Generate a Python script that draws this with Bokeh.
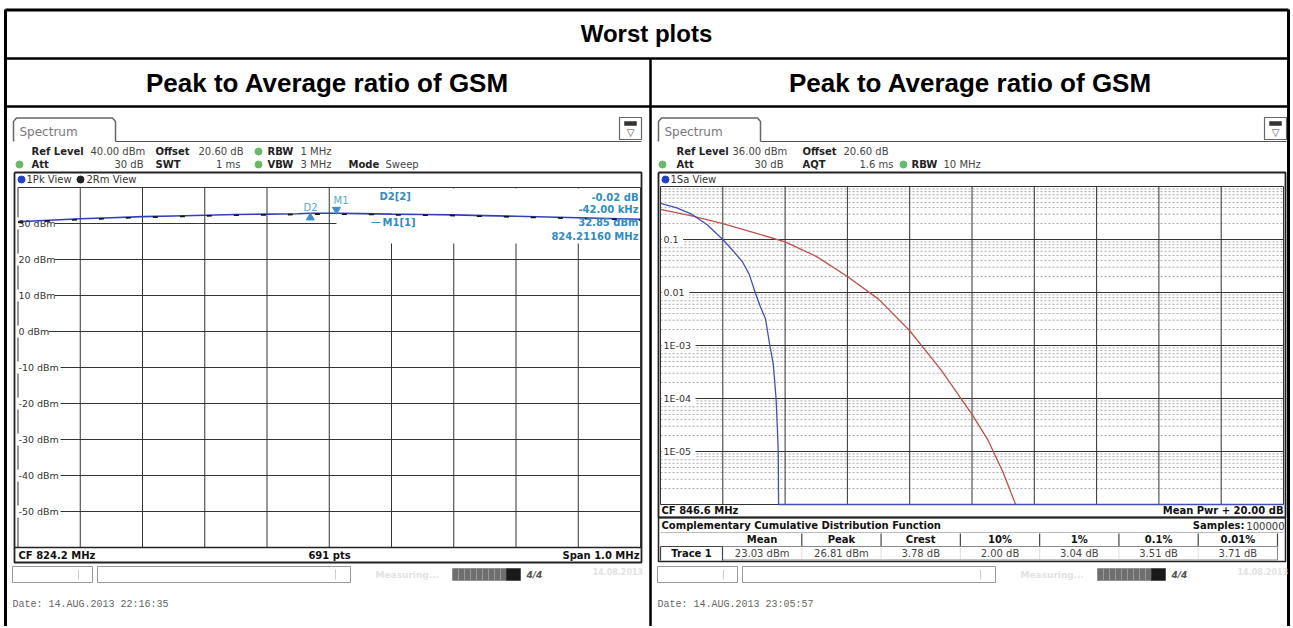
import numpy as np
from bokeh.plotting import figure
from bokeh.models import Range1d
from bokeh.core.properties import value
from bokeh.embed import file_html
from bokeh.resources import INLINE

# ---------------- data ----------------
table_title = "Worst plots"
panel_titles = ["Peak to Average ratio of GSM", "Peak to Average ratio of GSM"]

# left screenshot: spectrum (CF 824.2 MHz, span 1 MHz, ref 40 dBm, 10 dB/div)
spec_cf_mhz = 824.2
spec_span_mhz = 1.0
spec_ref_dbm = 40.0
spec_range_db = 100.0
spec_freq_mhz = [823.70, 823.75, 823.80, 823.85, 823.90, 823.95, 824.00, 824.05, 824.10,
                 824.15, 824.17, 824.2116, 824.25, 824.30, 824.35, 824.40, 824.45, 824.50,
                 824.55, 824.60, 824.65, 824.70]
spec_pk_dbm = [30.5, 30.9, 31.3, 31.6, 31.9, 32.1, 32.3, 32.5, 32.6,
               32.7, 32.83, 32.85, 32.75, 32.6, 32.5, 32.4, 32.2, 32.0,
               31.8, 31.6, 31.4, 31.2]
spec_rm_dbm = [30.3, 30.7, 31.1, 31.4, 31.7, 31.9, 32.1, 32.3, 32.4,
               32.5, 32.6, 32.6, 32.55, 32.4, 32.3, 32.2, 32.0, 31.8,
               31.6, 31.4, 31.2, 31.0]
spec_level_values = [30, 20, 10, 0, -10, -20, -30, -40, -50]
spec_level_labels = ["30 dBm", "20 dBm", "10 dBm", "0 dBm", "-10 dBm", "-20 dBm",
                     "-30 dBm", "-40 dBm", "-50 dBm"]
m1_freq, m1_level = 824.2116, 32.85
d2_freq, d2_level = 824.1696, 32.83

# right screenshot: CCDF (0 .. 20 dB above mean power, 1 .. 1E-06)
ccdf_gsm_db = [0.0, 0.5, 1.0, 1.5, 2.0, 2.3, 2.63, 2.85, 3.04, 3.2, 3.37, 3.51, 3.62,
               3.71, 3.75, 3.78, 3.79, 20.0]
ccdf_gsm_p = [0.48, 0.40, 0.30, 0.19, 0.10, 0.064, 0.038, 0.022, 0.010, 0.0055, 0.0032,
              0.0010, 0.00045, 0.0001, 0.00003, 0.00001, 0.000001, 0.000001]
ccdf_gauss_db = [0, 1, 2, 3, 4, 5, 6, 7, 8, 9, 10, 10.5, 11, 11.4]
ccdf_gauss_p = [0.37, 0.28, 0.20, 0.135, 0.09, 0.048, 0.02, 0.0075, 0.0019, 0.00035,
                0.00005, 0.000017, 0.000004, 0.000001]
ccdf_ytick_values = [0.1, 0.01, 1e-3, 1e-4, 1e-5]
ccdf_ytick_labels = ["0.1", "0.01", "1E-03", "1E-04", "1E-05"]
ccdf_headers = ["Mean", "Peak", "Crest", "10%", "1%", "0.1%", "0.01%"]
ccdf_values = ["23.03 dBm", "26.81 dBm", "3.78 dB", "2.00 dB", "3.04 dB", "3.51 dB", "3.71 dB"]

# ---------------- layout (page pixel canvas) ----------------
W, H = 1290, 626
X0, X1 = 0.0, float(W)
YT, YB = 0.0, float(H)

L_GX0, L_GX1, L_GY0, L_GY1 = 17.5, 640.0, 187.0, 547.0
R_GX0, R_GX1, R_GY0, R_GY1 = 660.0, 1283.0, 186.0, 504.0
R_DB_SPAN, R_DECADES = 20.0, 6.0

def f_mhz(x):
    return spec_cf_mhz - spec_span_mhz / 2 + (x - L_GX0) / (L_GX1 - L_GX0) * spec_span_mhz

def f_dbm(y):
    return spec_ref_dbm - (y - L_GY0) / (L_GY1 - L_GY0) * spec_range_db

def g_db(x):
    return (x - R_GX0) / (R_GX1 - R_GX0) * R_DB_SPAN

def g_lp(y):
    return -(y - R_GY0) / (R_GY1 - R_GY0) * R_DECADES

p = figure(width=W, height=H, x_range=Range1d(X0, X1), y_range=Range1d(YB, YT),
           output_backend="svg", toolbar_location=None, min_border=0,
           x_axis_location=None, y_axis_location=None)
p.grid.visible = False
p.outline_line_color = None
p.background_fill_color = "white"
p.border_fill_color = "white"
p.extra_x_ranges = {"mhz": Range1d(f_mhz(X0), f_mhz(X1)), "db": Range1d(g_db(X0), g_db(X1))}
p.extra_y_ranges = {"dbm": Range1d(f_dbm(YB), f_dbm(YT)), "lp": Range1d(g_lp(YB), g_lp(YT))}

FSV = "DejaVu Sans"


def T(x, y, s, size=10, color="#222222", bold=False, align="left", font=FSV, italic=False):
    style = "bold" if bold else "normal"
    if italic:
        style = "bold italic" if bold else "italic"
    p.text(x=[x], y=[y], text=[s], text_font=value(font), text_font_size=f"{size}px",
           text_color=color, text_font_style=style, text_align=align, text_baseline="middle")


def L(xs, ys, color="#333333", width=1.0, dash="solid"):
    p.line(xs, ys, line_color=color, line_width=width, line_dash=dash)


def box(x0, y0, x1, y1, fill="white", line="#555555", width=1.0):
    p.quad(left=[x0], right=[x1], top=[y0], bottom=[y1], fill_color=fill,
           line_color=line, line_width=width)


def dot(x, y, color):
    p.scatter([x], [y], size=7, marker="circle", fill_color=color, line_color=color)


# ---------------- outer table ----------------
L([5, 5], [9, 626], "black", 3)
L([1288, 1288], [9, 626], "black", 3)
L([5, 1288], [9.5, 9.5], "black", 3)
L([5, 1288], [58, 58], "black", 2.5)
L([5, 1288], [106, 106], "black", 2.5)
L([650, 650], [58, 626], "black", 2.5)
T(646, 33, table_title, 24, "black", True, "center", "Liberation Sans")
T(327, 82, panel_titles[0], 26, "black", True, "center", "Liberation Sans")
T(970, 82, panel_titles[1], 26, "black", True, "center", "Liberation Sans")


# ---------------- common FSV chrome ----------------
def chrome(dx, right_edge):
    L([13 + dx, 13 + dx, 16 + dx, 112 + dx, 115 + dx, 115 + dx],
      [141, 121, 117.5, 117.5, 121, 141], "#666666", 1.5)
    L([115 + dx, right_edge], [141, 141], "#555555", 1.2)
    T(19 + dx, 131, "Spectrum", 12, "#777777")
    box(right_edge - 22, 117, right_edge, 139, "white", "#666666", 1.2)
    box(right_edge - 17, 121, right_edge - 5, 125, "#333333", "#333333", 0.5)
    T(right_edge - 11, 132, "\u25BD", 10, "#444444", False, "center")


def status(dx, date):
    box(12 + dx, 566, 92 + dx, 582, "white", "#999999", 1)
    L([78 + dx, 78 + dx], [569, 579], "#cccccc", 1)
    box(97 + dx, 566, 350 + dx, 582, "white", "#999999", 1)
    L([335 + dx, 335 + dx], [569, 579], "#cccccc", 1)
    T(375 + dx, 574, "Measuring...", 9, "#e2e2e2", True)
    box(452 + dx, 568, 506 + dx, 580, "#6e6e6e", "#6e6e6e", 0.5)
    for k in range(1, 9):
        L([452 + dx + 6 * k, 452 + dx + 6 * k], [568, 580], "#9a9a9a", 1)
    box(506 + dx, 568, 520 + dx, 580, "#1a1a1a", "#1a1a1a", 0.5)
    T(526 + dx, 574, "4/4", 9, "#555555", True, "left", FSV, True)
    T(592 + dx, 571, "14.08.2013", 8, "#e2e2e2", True)
    T(12 + dx, 604, date, 10, "#666666", False, "left", "Liberation Mono")


# ================= LEFT: spectrum =================
chrome(0, 641)
row1, row2 = 151, 164
T(31, row1, "Ref Level", 10, "#222222", True)
T(90, row1, "40.00 dBm", 10, "#444444")
T(155, row1, "Offset", 10, "#222222", True)
T(198, row1, "20.60 dB", 10, "#444444")
dot(258, row1, "#66bb66")
T(267, row1, "RBW", 10, "#222222", True)
T(300, row1, "1 MHz", 10, "#444444")
dot(19, row2, "#66bb66")
T(31, row2, "Att", 10, "#222222", True)
T(143, row2, "30 dB", 10, "#444444", False, "right")
T(155, row2, "SWT", 10, "#222222", True)
T(240, row2, "1 ms", 10, "#444444", False, "right")
dot(258, row2, "#66bb66")
T(267, row2, "VBW", 10, "#222222", True)
T(300, row2, "3 MHz", 10, "#444444")
T(348, row2, "Mode", 10, "#222222", True)
T(385, row2, "Sweep", 10, "#444444")

L([14, 641, 641, 14, 14], [172, 172, 562, 562, 172], "#222222", 1.8)
dot(21, 179, "#2040d0")
T(26, 179, "1Pk View", 10, "#333333")
dot(80, 179, "#222222")
T(86, 179, "2Rm View", 10, "#333333")

fmin = spec_cf_mhz - spec_span_mhz / 2
fmax = spec_cf_mhz + spec_span_mhz / 2
lvl_all = [spec_ref_dbm - 10 * k for k in range(11)]
p.segment(x0=[fmin] * 11, x1=[fmax] * 11, y0=lvl_all, y1=lvl_all, line_color="#333333",
          line_width=1, x_range_name="mhz", y_range_name="dbm")
fv = list(np.linspace(fmin, fmax, 11))
p.segment(x0=fv, x1=fv, y0=[spec_ref_dbm] * 11, y1=[spec_ref_dbm - spec_range_db] * 11,
          line_color="#333333", line_width=1, x_range_name="mhz", y_range_name="dbm")
L([14, 641], [L_GY1, L_GY1], "#222222", 1.6)

box(336, 188, 639.5, 243, "white", None)
L([371, 380], [222, 222], "#3a8fc8", 1.2)

for v, s in zip(spec_level_values, spec_level_labels):
    yy = L_GY0 + (spec_ref_dbm - v) / spec_range_db * (L_GY1 - L_GY0)
    box(16, yy - 6, 18 + len(s) * 6.0, yy + 6, "white", None)
    T(18, yy, s, 9.5, "#333333")

p.line(spec_freq_mhz, spec_pk_dbm, line_color="#3040b8", line_width=1.6,
       x_range_name="mhz", y_range_name="dbm")
p.line(spec_freq_mhz, spec_rm_dbm, line_color="#111111", line_width=1.6, line_dash="5 22",
       x_range_name="mhz", y_range_name="dbm")

p.scatter([m1_freq], [m1_level + 1.0], marker="inverted_triangle", size=8,
          fill_color="#3a8fc8", line_color="#3a8fc8", x_range_name="mhz", y_range_name="dbm")
p.scatter([d2_freq], [d2_level - 1.2], marker="triangle", size=8,
          fill_color="#3a8fc8", line_color="#3a8fc8", x_range_name="mhz", y_range_name="dbm")
T(333, 200, "M1", 10, "#55aadd")
T(303, 207, "D2", 10, "#55aadd")
MC = "#2f8cc4"
T(379, 196, "D2[2]", 10, MC, True)
T(638, 197, "-0.02 dB", 10, MC, True, "right")
T(638, 209, "-42.00 kHz", 10, MC, True, "right")
T(382, 222, "M1[1]", 10, MC, True)
T(638, 222, "32.85 dBm", 10, MC, True, "right")
T(638, 236, "824.21160 MHz", 10, MC, True, "right")

T(18, 555, "CF 824.2 MHz", 10, "#111111", True)
T(329, 555, "691 pts", 10, "#111111", True, "center")
T(639, 555, "Span 1.0 MHz", 10, "#111111", True, "right")
status(0, "Date: 14.AUG.2013  22:16:35")

# ================= RIGHT: CCDF =================
dx = 645
chrome(dx, 1286)
T(31 + dx, row1, "Ref Level", 10, "#222222", True)
T(87 + dx, row1, "36.00 dBm", 10, "#444444")
T(157 + dx, row1, "Offset", 10, "#222222", True)
T(198 + dx, row1, "20.60 dB", 10, "#444444")
dot(17 + dx, row2, "#66bb66")
T(31 + dx, row2, "Att", 10, "#222222", True)
T(138 + dx, row2, "30 dB", 10, "#444444", False, "right")
T(157 + dx, row2, "AQT", 10, "#222222", True)
T(248 + dx, row2, "1.6 ms", 10, "#444444", False, "right")
dot(258 + dx, row2, "#66bb66")
T(266 + dx, row2, "RBW", 10, "#222222", True)
T(298 + dx, row2, "10 MHz", 10, "#444444")

L([658, 1285, 1285, 658, 658], [172, 172, 517, 517, 172], "#222222", 1.8)
dot(665, 179, "#2040d0")
T(670, 179, "1Sa View", 10, "#333333")

minor = []
for d in range(int(R_DECADES)):
    for k in range(2, 10):
        minor.append(np.log10(k) - d - 1)
p.segment(x0=[0] * len(minor), x1=[R_DB_SPAN] * len(minor), y0=minor, y1=minor,
          line_color="#a8a8a8", line_width=1, line_dash="2 2", x_range_name="db", y_range_name="lp")
majy = [-float(d) for d in range(int(R_DECADES) + 1)]
p.segment(x0=[0] * len(majy), x1=[R_DB_SPAN] * len(majy), y0=majy, y1=majy,
          line_color="#333333", line_width=1, x_range_name="db", y_range_name="lp")
vx = [2.0 * k for k in range(11)]
p.segment(x0=vx, x1=vx, y0=[0] * 11, y1=[-R_DECADES] * 11, line_color="#333333",
          line_width=1, x_range_name="db", y_range_name="lp")

for v, s in zip(ccdf_ytick_values, ccdf_ytick_labels):
    lp = np.log10(v)
    yy = R_GY0 + (-lp) / R_DECADES * (R_GY1 - R_GY0)
    box(661, yy - 6, 664 + len(s) * 6.2, yy + 6, "white", None)
    T(663, yy, s, 9.5, "#333333")

p.line(ccdf_gauss_db, list(np.log10(np.array(ccdf_gauss_p))), line_color="#c0504a", line_width=1.3,
       x_range_name="db", y_range_name="lp")
p.line(ccdf_gsm_db, list(np.log10(np.array(ccdf_gsm_p))), line_color="#4050b8", line_width=1.3,
       x_range_name="db", y_range_name="lp")

T(661, 510, "CF 846.6 MHz", 10, "#111111", True)
T(1283, 510, "Mean Pwr + 20.00 dB", 10, "#111111", True, "right")

L([658, 1285, 1285, 658, 658], [517, 517, 561, 561, 517], "#222222", 1.5)
T(661, 525, "Complementary Cumulative Distribution Function", 10, "#111111", True)
T(1284, 525, "100000", 10, "#333333", False, "right")
T(1244, 525, "Samples:", 10, "#111111", True, "right")
c0, c1 = 722.0, 1277.0
cw = (c1 - c0) / len(ccdf_headers)
L([660, 1283], [532, 532], "#bbbbbb", 1)
for i, (h, v) in enumerate(zip(ccdf_headers, ccdf_values)):
    cx = c0 + (i + 0.5) * cw
    T(cx, 539, h, 10, "#111111", True, "center")
    T(cx, 553, v, 10, "#444444", False, "center")
    xr = c0 + (i + 1) * cw
    L([xr, xr], [533, 546], "#444444", 1.2)
    if i < len(ccdf_headers) - 1:
        L([xr, xr], [547, 559], "#dddddd", 1)
L([c0, c1, c1, c0, c0], [546, 546, 559.5, 559.5, 546], "#888888", 1)
L([660, 722, 722], [546, 546, 560], "#444444", 1.2)
L([660, 660], [546, 560], "#444444", 1.2)
T(691, 553, "Trace 1", 10, "#111111", True, "center")

status(dx, "Date: 14.AUG.2013  23:05:57")

open("out.html", "w").write(file_html(p, INLINE))
